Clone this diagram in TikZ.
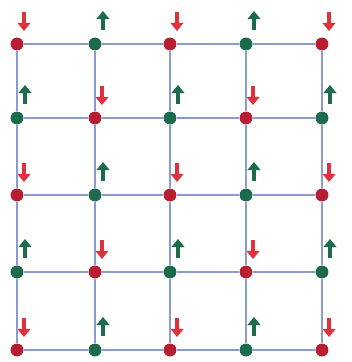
\documentclass[tikz,border=0pt]{standalone}
\usetikzlibrary{arrows.meta}
\definecolor{dotred}{HTML}{B81E32}
\definecolor{spinred}{HTML}{E2303C}
\definecolor{spingreen}{HTML}{1C6B4C}
\definecolor{gridline}{HTML}{8A9CCF}

\begin{document}
\begin{tikzpicture}[x=0.03cm,y=-0.03cm,
site/.style={circle,fill=#1,inner sep=0pt,minimum size=11pt},
spin/.style={draw=#1,line width=3.6pt,-{Triangle[width=11pt,length=7pt]}},
bond/.style={draw=gridline,line width=1.1pt}]
\useasboundingbox (0,0) rectangle (351,362);
% lattice sites with their spins
\foreach \i/\x in {0/17,1/95,2/170,3/246,4/322}
 \foreach \j/\y in {0/44,1/118,2/195,3/272,4/350}{
  \pgfmathtruncatemacro\parity{mod(\i+\j,2)}
  \ifnum\parity=0
   \node[site=dotred] (s-\i-\j) at (\x,\y) {};
   \draw[spin=spinred] ([shift={(7,-32)}]s-\i-\j.center) -- ++(0,19);
  \else
   \node[site=spingreen] (s-\i-\j) at (\x,\y) {};
   \draw[spin=spingreen] ([shift={(8,-14)}]s-\i-\j.center) -- ++(0,-19);
  \fi
 }
% bonds
\foreach \i in {0,...,3}
 \foreach \j in {0,...,4}{
  \pgfmathtruncatemacro\k{\i+1}
  \draw[bond] (s-\i-\j) -- (s-\k-\j);
  \draw[bond] (s-\j-\i) -- (s-\j-\k);
 }
\end{tikzpicture}
\end{document}
